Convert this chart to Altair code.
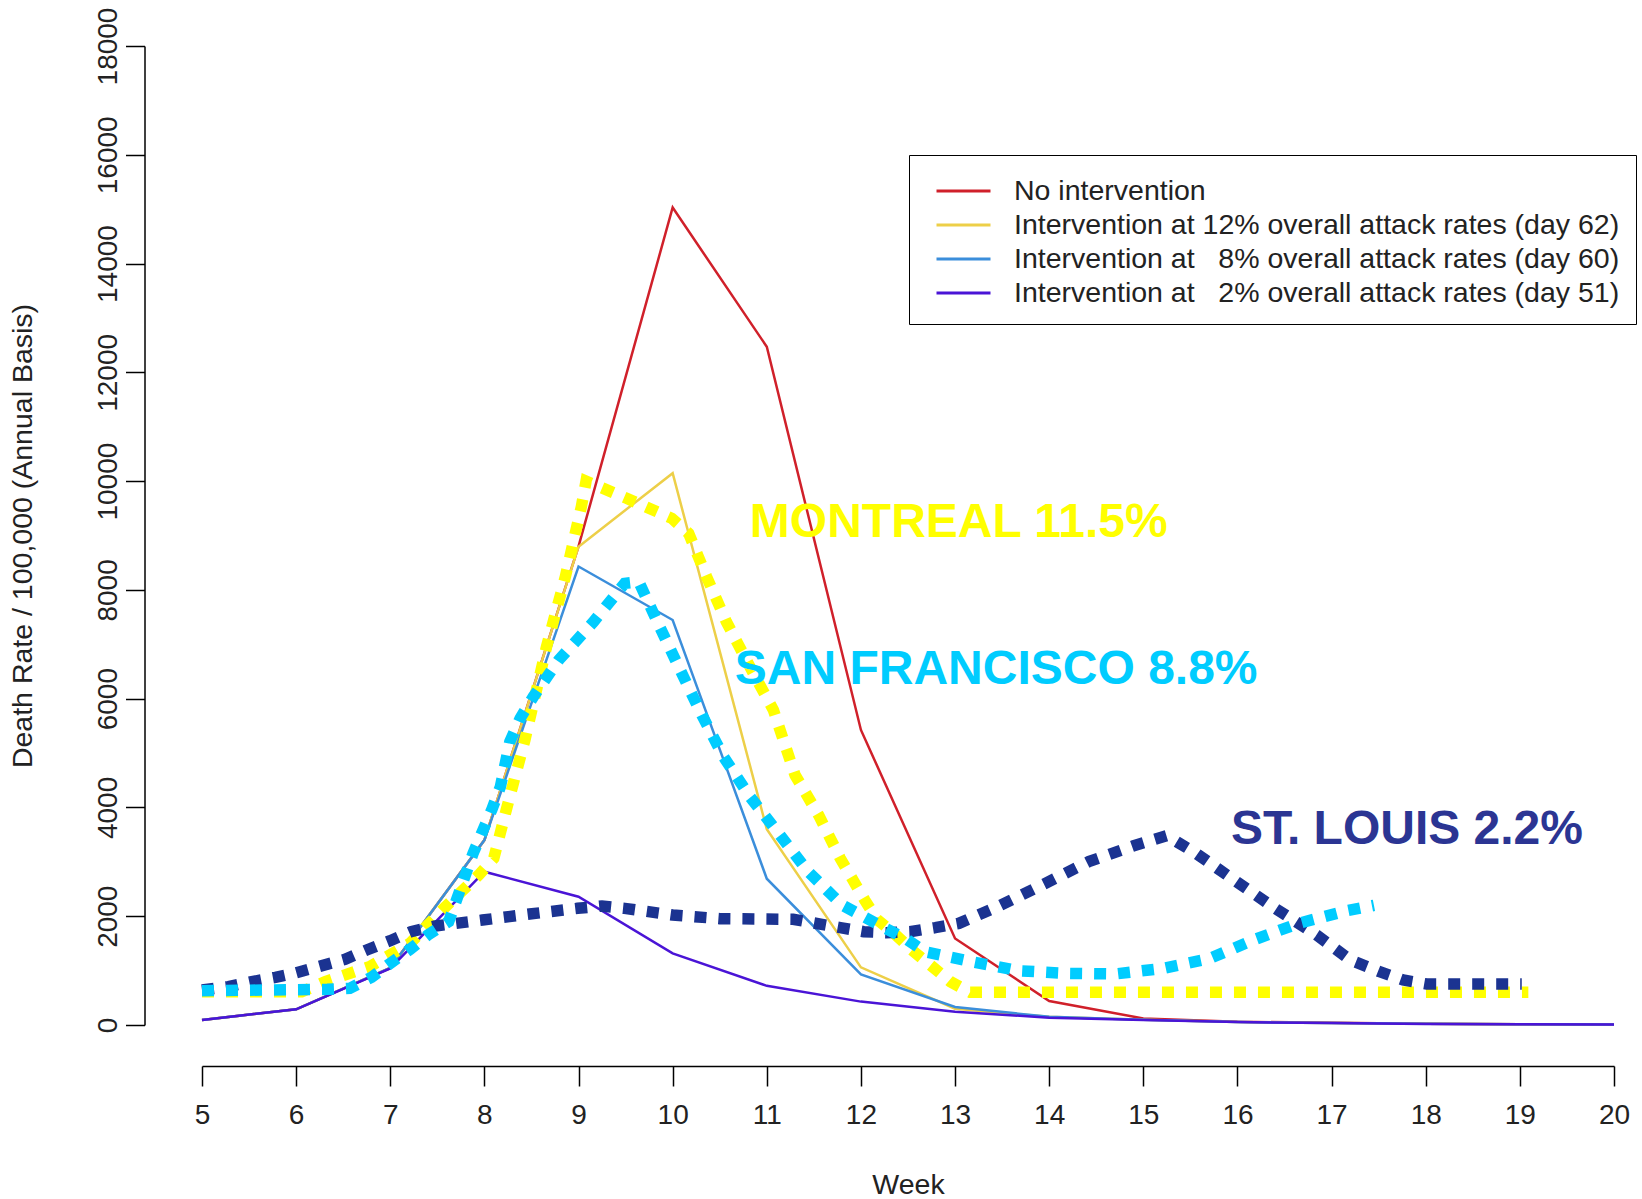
import altair as alt
import pandas as pd

FONT = "Liberation Sans, Arial, sans-serif"

# ---- simulated curves (weekly) ----
weeks = list(range(5, 21))
no_intervention = [92, 289, 1050, 3400, 8800, 15030, 12470, 5425, 1590, 440, 120, 60, 40, 25, 15, 10]
int_12pct = [92, 289, 1050, 3400, 8795, 10145, 3600, 1060, 300, 150, 95, 55, 35, 22, 14, 8]
int_8pct = [92, 289, 1050, 3400, 8430, 7446, 2690, 930, 330, 150, 95, 55, 35, 22, 14, 8]
int_2pct = [92, 289, 1042, 2819, 2359, 1318, 720, 430, 245, 135, 92, 55, 35, 20, 12, 8]

series_names = [
    "No intervention",
    "Intervention at 12% overall attack rates (day 62)",
    "Intervention at\u00a0\u00a0\u00a08% overall attack rates (day 60)",
    "Intervention at\u00a0\u00a0\u00a02% overall attack rates (day 51)",
]
series_colors = ["#D0202A", "#EDCF48", "#3B8EDB", "#4A14D6"]

# ---- observed city curves ----
montreal_weeks = [5.0, 5.5, 6.06, 6.31, 6.78, 7.21, 7.57, 7.94, 8.10, 8.23, 8.43, 8.66, 8.86, 9.03, 9.08,
                  9.51, 9.99, 10.17, 10.36, 10.57, 10.82, 11.07, 11.30, 11.55, 11.78, 12.04, 12.17, 12.36,
                  12.54, 12.75, 12.95, 13.16, 19.09]
montreal_rates = [613, 613, 613, 797, 1073, 1502, 2145, 2758, 3065, 3940, 5240, 6955, 8242, 9530, 10000,
                  9684, 9316, 9040, 8242, 7415, 6588, 5792, 4596, 3861, 3065, 2298, 1943, 1673,
                  1379, 1085, 797, 600, 600]

sf_weeks = [5.0, 5.5, 6.0, 6.33, 6.57, 6.80, 7.0, 7.21, 7.40, 7.62, 7.71, 7.88, 8.08, 8.17, 8.27, 8.38,
            8.52, 8.79, 9.16, 9.49, 9.64, 9.87, 10.08, 10.31, 10.54, 10.82, 11.14, 11.44, 11.80, 12.03,
            12.26, 12.47, 12.68, 13.18, 13.67, 14.18, 14.70, 15.21, 15.71, 16.17, 16.65, 17.16, 17.45]
sf_rates = [630, 640, 650, 656, 675, 877, 1134, 1392, 1655, 1900, 2329, 3157, 3966, 4381, 5209, 5639,
            6036, 6711, 7415, 8120, 8150, 7293, 6527, 5700, 4933, 4198, 3493, 2819, 2206, 1991,
            1778, 1594, 1348, 1164, 998, 950, 938, 1042, 1226, 1563, 1869, 2101, 2200]

stl_weeks = [5.0, 5.28, 5.53, 5.78, 6.0, 6.52, 6.75, 7.0, 7.22, 7.48, 7.98, 8.48, 8.99, 9.25, 9.49, 10.0,
             10.50, 11.28, 11.78, 12.03, 12.27, 12.52, 12.79, 13.04, 13.45, 13.96, 14.42, 14.89, 15.25,
             15.57, 15.99, 16.40, 16.84, 17.20, 17.51, 17.76, 18.01, 19.02]
stl_rates = [643, 705, 797, 877, 960, 1208, 1379, 1550, 1716, 1820, 1930, 2040, 2145, 2188, 2145, 2022,
             1955, 1943, 1790, 1716, 1697, 1716, 1790, 1869, 2175, 2605, 3003, 3291, 3480,
             3144, 2635, 2145, 1655, 1195, 980, 827, 754, 754]

city_labels = ["MONTREAL 11.5%", "SAN FRANCISCO 8.8%", "ST. LOUIS 2.2%"]
city_label_weeks = [10.82, 10.66, 15.93]
city_label_rates = [8967, 6269, 3328]
city_colors = ["#FFFF00", "#00CCFF", "#2B3593"]
city_line_colors = ["#FFFF00", "#00CCFF", "#1B3391"]

# ---- encodings ----
x_axis = alt.Axis(
    values=weeks, title="Week", offset=41, tickSize=20, tickWidth=1.5, tickColor="black",
    domainColor="black", domainWidth=1.5, labelFont=FONT, labelFontSize=28, labelColor="#222",
    labelPadding=15, titleFont=FONT, titleFontSize=28.5, titleFontWeight="normal", titleColor="#222",
    titlePadding=41, grid=False, labelFlush=False, format="d",
)
y_axis = alt.Axis(
    values=list(range(0, 18001, 2000)), title="Death Rate / 100,000 (Annual Basis)", offset=57.5,
    tickSize=19, tickWidth=1.5, tickColor="black", domainColor="black", domainWidth=1.5,
    labelFont=FONT, labelFontSize=28, labelColor="#222", labelAngle=270, labelAlign="center",
    labelBaseline="alphabetic", labelPadding=9, titleFont=FONT, titleFontSize=28.5,
    titleFontWeight="normal", titleColor="#222", titlePadding=57, grid=False, labelFlush=False,
    format="d",
)
x_enc = alt.X("week:Q", scale=alt.Scale(domain=[5, 20], nice=False, zero=False), axis=x_axis)
y_enc = alt.Y("rate:Q", scale=alt.Scale(domain=[0, 18000], nice=False, zero=True), axis=y_axis)

legend = alt.Legend(
    orient="none", legendX=707, legendY=109, title=None,
    direction="vertical", symbolType="M-1.5,0H1.5", symbolStrokeWidth=3, symbolSize=1296,
    symbolOffset=18.5, labelFont=FONT, labelFontSize=28.5, labelColor="#222", labelLimit=0,
    labelOffset=31, padding=16.5, rowPadding=0, strokeColor="black", fillColor="white",
)
color_enc = alt.Color("series:N", scale=alt.Scale(domain=series_names, range=series_colors), legend=legend)

layers = []
for name, vals in zip(series_names, [no_intervention, int_12pct, int_8pct, int_2pct]):
    df = pd.DataFrame({"week": weeks, "rate": vals, "series": name})
    layers.append(alt.Chart(df).mark_line(strokeWidth=2.5).encode(x=x_enc, y=y_enc, color=color_enc))

for wk, rt, col in [(montreal_weeks, montreal_rates, city_line_colors[0]),
                    (stl_weeks, stl_rates, city_line_colors[2]),
                    (sf_weeks, sf_rates, city_line_colors[1])]:
    df = pd.DataFrame({"week": wk, "rate": rt})
    layers.append(
        alt.Chart(df).mark_line(strokeWidth=11.5, strokeDash=[12, 12], strokeCap="butt", color=col)
        .encode(x=x_enc, y=y_enc)
    )

label_df = pd.DataFrame({"week": city_label_weeks, "rate": city_label_rates, "label": city_labels,
                         "color": city_colors})
layers.append(
    alt.Chart(label_df).mark_text(align="left", baseline="alphabetic", font=FONT, fontWeight="bold",
                                  fontSize=48)
    .encode(x=x_enc, y=y_enc, text="label:N", color=alt.Color("color:N", scale=None))
)

chart = alt.layer(*layers).properties(
    width=1412, height=979,
    autosize=alt.AutoSizeParams(type="none"),
    padding={"left": 202, "top": 46, "right": 28, "bottom": 174},
    background="white",
).configure_view(stroke=None)

chart.save("out.html", embed_options={"renderer": "svg", "actions": False})
